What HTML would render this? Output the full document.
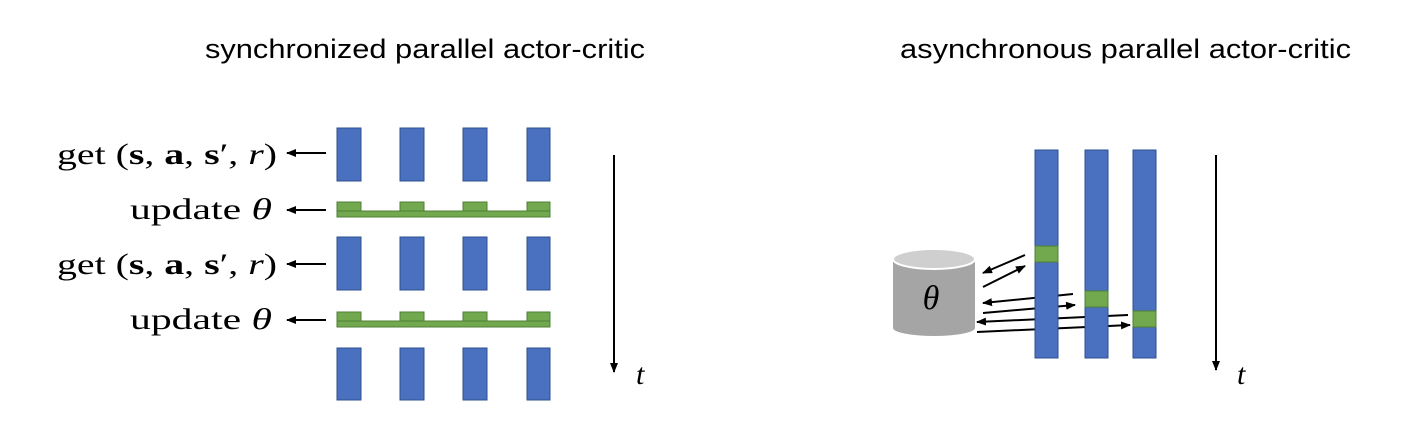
<!DOCTYPE html>
<html><head><style>body{margin:0;background:#fff}</style></head><body>
<svg width="1424" height="442" xmlns="http://www.w3.org/2000/svg" font-family="Liberation Serif, serif">
<defs><marker id="a" markerWidth="10" markerHeight="8" refX="9" refY="4" orient="auto" markerUnits="userSpaceOnUse"><path d="M0,0L10,4L0,8z" fill="#000"/></marker></defs>
<text x="205" y="58" font-family="Liberation Sans, sans-serif" font-size="27" textLength="440" lengthAdjust="spacingAndGlyphs">synchronized parallel actor-critic</text>
<text x="900" y="58" font-family="Liberation Sans, sans-serif" font-size="27" textLength="451" lengthAdjust="spacingAndGlyphs">asynchronous parallel actor-critic</text>
<g fill="#4a70c0" stroke="#2f4f8f" stroke-width="1">
<rect x="337" y="128" width="24" height="53"/><rect x="400" y="128" width="24" height="53"/><rect x="463" y="128" width="24" height="53"/><rect x="527" y="128" width="23" height="53"/>
<rect x="337" y="237" width="24" height="53"/><rect x="400" y="237" width="24" height="53"/><rect x="463" y="237" width="24" height="53"/><rect x="527" y="237" width="23" height="53"/>
<rect x="337" y="348" width="24" height="52"/><rect x="400" y="348" width="24" height="52"/><rect x="463" y="348" width="24" height="52"/><rect x="527" y="348" width="23" height="52"/>
</g>
<g fill="#72a94f" stroke="#4f7f35" stroke-width="1">
<rect x="337" y="202" width="24" height="9"/><rect x="400" y="202" width="24" height="9"/><rect x="463" y="202" width="24" height="9"/><rect x="527" y="202" width="23" height="9"/><rect x="337" y="211" width="213" height="6"/>
<rect x="337" y="312" width="24" height="9"/><rect x="400" y="312" width="24" height="9"/><rect x="463" y="312" width="24" height="9"/><rect x="527" y="312" width="23" height="9"/><rect x="337" y="321" width="213" height="6"/>
</g>
<g font-size="30">
<text x="57" y="164" textLength="220" lengthAdjust="spacingAndGlyphs">get  (<tspan font-weight="bold">s</tspan>, <tspan font-weight="bold">a</tspan>, <tspan font-weight="bold">s</tspan>′, <tspan font-style="italic">r</tspan>)</text>
<text x="130" y="219" textLength="142" lengthAdjust="spacingAndGlyphs">update <tspan font-style="italic">θ</tspan></text>
<text x="57" y="274" textLength="220" lengthAdjust="spacingAndGlyphs">get  (<tspan font-weight="bold">s</tspan>, <tspan font-weight="bold">a</tspan>, <tspan font-weight="bold">s</tspan>′, <tspan font-style="italic">r</tspan>)</text>
<text x="130" y="329" textLength="142" lengthAdjust="spacingAndGlyphs">update <tspan font-style="italic">θ</tspan></text>
</g>
<g stroke="#000" stroke-width="2" marker-end="url(#a)">
<line x1="326" y1="153" x2="287" y2="153"/><line x1="326" y1="210" x2="287" y2="210"/>
<line x1="326" y1="264" x2="287" y2="264"/><line x1="326" y1="320" x2="287" y2="320"/>
<line x1="614" y1="155" x2="614" y2="372"/><line x1="1216" y1="155" x2="1216" y2="370"/>
<line x1="1025" y1="255" x2="983" y2="273"/><line x1="983" y1="287" x2="1025" y2="266"/>
<line x1="1073" y1="294" x2="983" y2="303"/><line x1="983" y1="313" x2="1075" y2="305"/>
<line x1="1128" y1="315" x2="977" y2="322"/><line x1="977" y1="332" x2="1130" y2="325"/>
</g>
<text x="636" y="384" font-size="30" font-style="italic">t</text>
<text x="1237" y="384" font-size="30" font-style="italic">t</text>
<g fill="#4a70c0" stroke="#2f4f8f" stroke-width="1">
<rect x="1035" y="150" width="23" height="208"/><rect x="1085" y="150" width="23" height="208"/><rect x="1133" y="150" width="23" height="208"/>
</g>
<g fill="#72a94f" stroke="#4f7f35" stroke-width="1">
<rect x="1035" y="246" width="23" height="16"/><rect x="1085" y="291" width="23" height="16"/><rect x="1133" y="311" width="23" height="16"/>
</g>
<path d="M893,260 L893,328 A41,8 0 0 0 975,328 L975,260 Z" fill="#a5a5a5"/>
<ellipse cx="934" cy="259" rx="41" ry="10" fill="#cfcfcf" stroke="#fff" stroke-width="2"/>
<text x="931" y="309" font-size="34" font-style="italic" text-anchor="middle">θ</text>
</svg>
</body></html>
